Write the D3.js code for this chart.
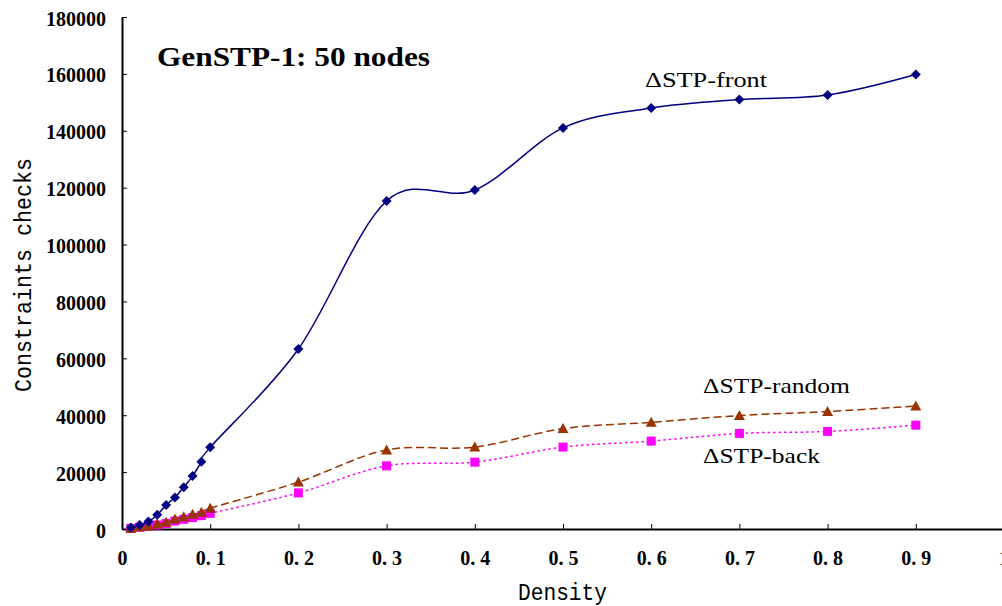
<!DOCTYPE html>
<html><head><meta charset="utf-8">
<script src="https://cdn.jsdelivr.net/npm/d3@7"></script>
<style>html,body{margin:0;padding:0;background:#fff;overflow:hidden}</style>
</head><body>
<svg id="c" width="1002" height="606"></svg>
<script>
const density = [0.01,0.02,0.03,0.04,0.05,0.06,0.07,0.08,0.09,0.1,0.2,0.3,0.4,0.5,0.6,0.7,0.8,0.9];
const front  = [500,1400,2600,5000,8400,11100,14700,18600,23600,28700,63300,115300,119200,141000,148000,151000,152600,159800];
const randomS= [250,800,1050,1750,2350,3500,4300,5150,5850,7300,16500,27800,28800,35300,37500,39900,41300,43200];
const back   = [200,600,900,1400,1900,2800,3400,4000,4700,5500,12700,22200,23500,28800,30900,33600,34300,36500];
const xTicks = [0,0.1,0.2,0.3,0.4,0.5,0.6,0.7,0.8,0.9,1];
const yTicks = [0,20000,40000,60000,80000,100000,120000,140000,160000,180000];
const seriesNames = ["\u0394STP-front","\u0394STP-random","\u0394STP-back"];

const svg = d3.select("#c");
const x = d3.scaleLinear().domain([0,1]).range([122,1004]);
const y = d3.scaleLinear().domain([0,180000]).range([529,17]);

const tickFont = "'Liberation Serif', serif";
// axes
const gx = svg.append("g").attr("transform","translate(0,529)")
  .call(d3.axisBottom(x).tickValues(xTicks).tickSizeInner(-5).tickSizeOuter(0)
    .tickFormat(d => d===0 ? "0" : d===1 ? "1" : d3.format(".1f")(d).replace(".", ". ")));
gx.select(".domain").attr("stroke","#000").attr("stroke-width",2);
gx.selectAll(".tick line").attr("stroke","#000").attr("stroke-width",1);
gx.selectAll(".tick text").attr("y",36).attr("dy",0).attr("font-family",tickFont)
  .attr("font-weight","bold").attr("font-size",20).attr("fill","#000").style("white-space","pre");

const gy = svg.append("g").attr("transform","translate(122,0)")
  .call(d3.axisLeft(y).tickValues(yTicks).tickSizeInner(-5).tickSizeOuter(0).tickFormat(d3.format("d")));
gy.select(".domain").attr("stroke","#000").attr("stroke-width",2);
gy.selectAll(".tick line").attr("stroke","#000").attr("stroke-width",1);
gy.selectAll(".tick text").attr("x",-16).attr("dy",8).attr("font-family",tickFont)
  .attr("font-weight","bold").attr("font-size",20).attr("fill","#000");

// axis titles
svg.append("text").attr("x",518).attr("y",600)
  .attr("font-family","'Liberation Mono', monospace").attr("font-size",24)
  .attr("textLength",89).attr("lengthAdjust","spacingAndGlyphs").text("Density");
svg.append("text").attr("transform","translate(31,392) rotate(-90)")
  .attr("font-family","'Liberation Mono', monospace").attr("font-size",24)
  .attr("textLength",234).attr("lengthAdjust","spacingAndGlyphs").text("Constraints checks");

// title
svg.append("text").attr("x",157).attr("y",66).attr("font-family","'Liberation Serif', serif")
  .attr("font-weight","bold").attr("font-size",27)
  .attr("textLength",273).attr("lengthAdjust","spacingAndGlyphs").text("GenSTP-1: 50 nodes");

const curve = d3.curveCardinal.tension(0);
function line(vals){ return d3.line().x((d,i)=>x(density[i])).y(d=>y(d)).curve(curve)(vals); }

// back (magenta dotted, squares)
svg.append("path").attr("d",line(back)).attr("fill","none").attr("stroke","#ff00ff").attr("stroke-width",1.5).attr("stroke-dasharray","2.5,3");
svg.append("g").selectAll("rect").data(back).join("rect")
  .attr("x",(d,i)=>x(density[i])-4.5).attr("y",d=>y(d)-4.5).attr("width",9).attr("height",9).attr("fill","#ff00ff");

// random (brown dashed, triangles)
svg.append("path").attr("d",line(randomS)).attr("fill","none").attr("stroke","#993300").attr("stroke-width",1.5).attr("stroke-dasharray","8,4");
svg.append("g").selectAll("path").data(randomS).join("path")
  .attr("transform",(d,i)=>`translate(${x(density[i])},${y(d)})`)
  .attr("d","M0,-5.5L5.5,4.5L-5.5,4.5Z").attr("fill","#993300");

// front (navy solid, diamonds)
svg.append("path").attr("d",line(front)).attr("fill","none").attr("stroke","#000080").attr("stroke-width",1.5);
svg.append("g").selectAll("path").data(front).join("path")
  .attr("transform",(d,i)=>`translate(${x(density[i])},${y(d)})`)
  .attr("d","M0,-5L5,0L0,5L-5,0Z").attr("fill","#000080");

// series labels
const lf = "'Liberation Serif', serif";
const labels = [{t:seriesNames[0],x:645,y:87,w:122},{t:seriesNames[1],x:703,y:393,w:147},{t:seriesNames[2],x:703,y:463,w:117}];
svg.append("g").selectAll("text").data(labels).join("text")
  .attr("x",d=>d.x).attr("y",d=>d.y).attr("font-family",lf).attr("font-size",22)
  .attr("textLength",d=>d.w).attr("lengthAdjust","spacingAndGlyphs").text(d=>d.t);
</script>
</body></html>
